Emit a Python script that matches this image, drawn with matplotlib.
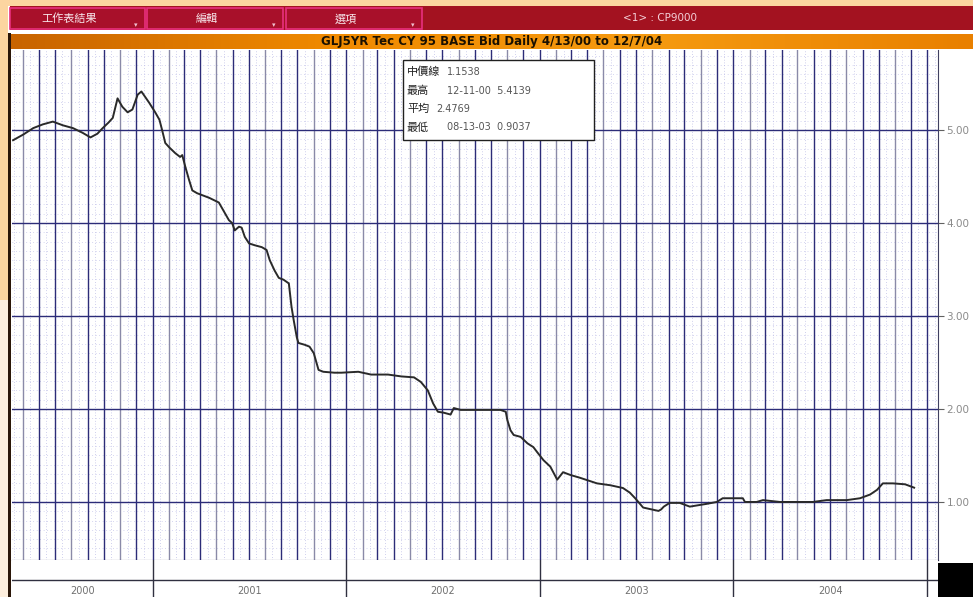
import numpy as np
import pandas as pd
import matplotlib
matplotlib.use('Agg')
import matplotlib.pyplot as plt
from matplotlib.patches import Rectangle
from matplotlib.colors import LinearSegmentedColormap

plt.rcParams['font.family'] = ['Noto Sans CJK TC', 'DejaVu Sans']

W, H = 973, 597

# daily bid series
dates = ['2000-04-13', '2000-05-02', '2000-05-21', '2000-06-08', '2000-06-27', '2000-07-16',
         '2000-08-04', '2000-08-22', '2000-09-06', '2000-09-19', '2000-09-29', '2000-10-10',
         '2000-10-18', '2000-10-27', '2000-11-05', '2000-11-15', '2000-11-24', '2000-12-04',
         '2000-12-11', '2000-12-26', '2001-01-06', '2001-01-14', '2001-01-19', '2001-01-25',
         '2001-02-02', '2001-02-13', '2001-02-22', '2001-02-26', '2001-03-04', '2001-03-11',
         '2001-03-17', '2001-03-26', '2001-04-18', '2001-05-06', '2001-05-16', '2001-05-25',
         '2001-05-31', '2001-06-05', '2001-06-13', '2001-06-18', '2001-06-24', '2001-07-02',
         '2001-07-13', '2001-07-26', '2001-08-04', '2001-08-10', '2001-08-19', '2001-08-27',
         '2001-09-05', '2001-09-15', '2001-09-20', '2001-09-24', '2001-09-30', '2001-10-03',
         '2001-10-15', '2001-10-24', '2001-11-01', '2001-11-10', '2001-11-19', '2001-12-10',
         '2001-12-23', '2002-01-24', '2002-02-17', '2002-03-21', '2002-04-15', '2002-05-09',
         '2002-05-22', '2002-06-04', '2002-06-14', '2002-06-23', '2002-07-04', '2002-07-17',
         '2002-07-23', '2002-08-05', '2002-08-30', '2002-09-25', '2002-10-19', '2002-10-29',
         '2002-11-01', '2002-11-07', '2002-11-13', '2002-11-26', '2002-12-09', '2002-12-20',
         '2002-12-28', '2003-01-08', '2003-01-21', '2003-02-03', '2003-02-14', '2003-02-28',
         '2003-03-18', '2003-04-19', '2003-05-14', '2003-06-07', '2003-06-20', '2003-06-30',
         '2003-07-15', '2003-08-13', '2003-08-18', '2003-08-23', '2003-09-03', '2003-09-22',
         '2003-10-11', '2003-11-12', '2003-12-01', '2003-12-12', '2004-01-19', '2004-01-23',
         '2004-02-14', '2004-02-26', '2004-03-29', '2004-04-30', '2004-05-30', '2004-06-25',
         '2004-08-02', '2004-08-27', '2004-09-15', '2004-09-28', '2004-10-09', '2004-10-28',
         '2004-11-20', '2004-12-07']
values = [4.89, 4.95, 5.02, 5.06, 5.09, 5.05,
          5.02, 4.97, 4.92, 4.96, 5.02, 5.08,
          5.13, 5.34, 5.25, 5.19, 5.22, 5.38,
          5.4139, 5.29, 5.19, 5.11, 5.00, 4.86,
          4.81, 4.75, 4.71, 4.73, 4.60, 4.46,
          4.35, 4.32, 4.27, 4.22, 4.12, 4.03,
          4.00, 3.92, 3.96, 3.95, 3.85, 3.78,
          3.76, 3.74, 3.71, 3.60, 3.49, 3.41,
          3.39, 3.35, 3.10, 2.96, 2.77, 2.71,
          2.69, 2.67, 2.60, 2.42, 2.40, 2.39,
          2.39, 2.40, 2.37, 2.37, 2.35, 2.34,
          2.29, 2.20, 2.06, 1.97, 1.96, 1.94,
          2.01, 1.99, 1.99, 1.99, 1.99, 1.97,
          1.88, 1.77, 1.72, 1.70, 1.63, 1.59,
          1.53, 1.45, 1.38, 1.24, 1.32, 1.29,
          1.26, 1.20, 1.18, 1.15, 1.10, 1.04,
          0.94, 0.9037, 0.92, 0.95, 0.99, 0.99,
          0.95, 0.98, 1.00, 1.04, 1.04, 1.00,
          1.00, 1.02, 1.00, 1.00, 1.00, 1.02,
          1.02, 1.04, 1.08, 1.13, 1.20, 1.20,
          1.19, 1.1538]

y_ticks = [1, 2, 3, 4, 5]
y_labels = ['1.00', '2.00', '3.00', '4.00', '5.00']
years = ['2000', '2001', '2002', '2003', '2004']
year_edges = ['2000-04-13', '2001-01-01', '2002-01-01', '2003-01-01', '2004-01-01', '2005-01-01']
menu_labels = ['工作表結果', '編輯', '選項']
header_right = '<1> : CP9000'
title_text = 'GLJ5YR Tec CY 95 BASE Bid Daily 4/13/00 to 12/7/04'
info_lines = [('中價線', '1.1538'),
              ('最高', '12-11-00  5.4139'),
              ('平均', '2.4769'),
              ('最低', '08-13-03  0.9037')]

def fx(x):
    return x / W

def fy(y):
    return 1 - y / H

def frect(x0, y0, x1, y1, **kw):
    fig.patches.append(Rectangle((fx(x0), fy(y1)), fx(x1) - fx(x0), fy(y0) - fy(y1),
                                 transform=fig.transFigure, **kw))

fig = plt.figure(figsize=(W / 100, H / 100), dpi=100, facecolor='white')

# peach screen background at the edges
frect(0, 0, 973, 6, facecolor='#fcd5a0', edgecolor='none')
frect(0, 0, 8, 300, facecolor='#fcd5a0', edgecolor='none')
frect(0, 300, 8, 597, facecolor='#fdeedd', edgecolor='none')

# top menu bar
frect(10, 6, 973, 30, facecolor='#a31220', edgecolor='none')
btns = [(10, 145), (147, 283), (286, 422)]
for (x0, x1), lab in zip(btns, menu_labels):
    frect(x0, 8, x1, 29, facecolor='#a8102a', edgecolor='#e8307e', linewidth=1.2)
    fig.text(fx((x0 + x1) / 2 - 8), fy(19), lab, color='#f8e8ec', fontsize=8,
             ha='center', va='center')
    fig.text(fx(x1 - 9), fy(25), '▾', color='#f0c0d0', fontsize=5,
             ha='center', va='center', family='DejaVu Sans')
fig.text(fx(660), fy(18), header_right, color='#f4d0d8', fontsize=7.5,
         ha='center', va='center', family='DejaVu Sans')

# dark left frame bar
frect(8, 33, 11, 597, facecolor='#2a1608', edgecolor='none')

# orange title bar with gradient
tax = fig.add_axes([fx(11), fy(49), fx(973) - fx(11), fy(34) - fy(49)])
grad = np.linspace(0, 1, 256).reshape(1, -1)
ocmap = LinearSegmentedColormap.from_list('org', ['#c86400', '#f08a00', '#f59a10', '#e98000'])
tax.imshow(grad, aspect='auto', cmap=ocmap, extent=[0, 1, 0, 1])
tax.set_axis_off()
tax.text(0.5, 0.5, title_text, ha='center', va='center', fontsize=8.5, fontweight='bold',
         color='#1a1000', family='DejaVu Sans', transform=tax.transAxes)

# main chart
ax = fig.add_axes([fx(12), fy(560), fx(938) - fx(12), fy(50) - fy(560)])
d = pd.to_datetime(dates)
ax.set_xlim(pd.Timestamp('2000-04-11'), pd.Timestamp('2005-01-21'))
ax.set_ylim(0.376, 5.86)

months = pd.date_range('2000-05-01', '2005-01-01', freq='MS')
mids = pd.date_range('2000-04-15', '2005-01-15', freq='SMS')
for m in mids:
    if m.day != 1:
        ax.axvline(m, color='#a4a4dc', lw=0.5, ls=(0, (1, 3)), zorder=1)
for v in np.arange(0.5, 5.9, 0.1):
    ax.axhline(v, color='#b0b0e4', lw=0.5, ls=(0, (1, 4)), zorder=1)
for i, m in enumerate(months):
    ax.axvline(m, color='#2c2c78' if i % 3 else '#8a8aa8', lw=1.0, zorder=2)
for t in y_ticks:
    ax.axhline(t, color='#2c2c78', lw=1.0, zorder=2)

ax.plot(d, values, color='#2a2a2a', lw=1.4, zorder=4)

ax.yaxis.tick_right()
ax.set_yticks(y_ticks)
ax.set_yticklabels(y_labels, fontsize=7.5, color='#8a8a8a', family='DejaVu Sans')
ax.tick_params(axis='y', length=4, color='#606060', pad=2)
ax.set_xticks([])
for s in ['left', 'top']:
    ax.spines[s].set_visible(False)
ax.spines['right'].set_color('#404060')
ax.spines['bottom'].set_color('#303050')

# tooltip box
frect(403, 60, 594, 140, facecolor='white', edgecolor='#202020', linewidth=1.0, zorder=10)
for k, (lab, val) in enumerate(info_lines):
    yy = 72 + k * 18.5
    fig.text(fx(407), fy(yy), lab, fontsize=8, color='#202020', va='center', zorder=11)
    fig.text(fx(447 if k != 2 else 436), fy(yy), val, fontsize=7, color='#555555',
             va='center', family='DejaVu Sans', zorder=11)

# date strip
sax = fig.add_axes([fx(12), fy(597), fx(938) - fx(12), fy(560) - fy(597)], sharex=ax)
sax.set_ylim(0, 1)
sax.axhline(0.46, color='#303040', lw=1.0)
ye = pd.to_datetime(year_edges)
for e in ye[1:]:
    sax.axvline(e, color='#303040', lw=1.0)
for i, lab in enumerate(years):
    mid = ye[i] + (ye[i + 1] - ye[i]) / 2
    sax.text(mid, 0.15, lab, ha='center', va='center', fontsize=7,
             color='#707070', family='DejaVu Sans')
sax.set_xticks([])
sax.set_yticks([])
for s in sax.spines.values():
    s.set_visible(False)

# black corner box
frect(938, 563, 973, 597, facecolor='black', edgecolor='none')

fig.savefig('out.png', dpi=100, facecolor=fig.get_facecolor())
